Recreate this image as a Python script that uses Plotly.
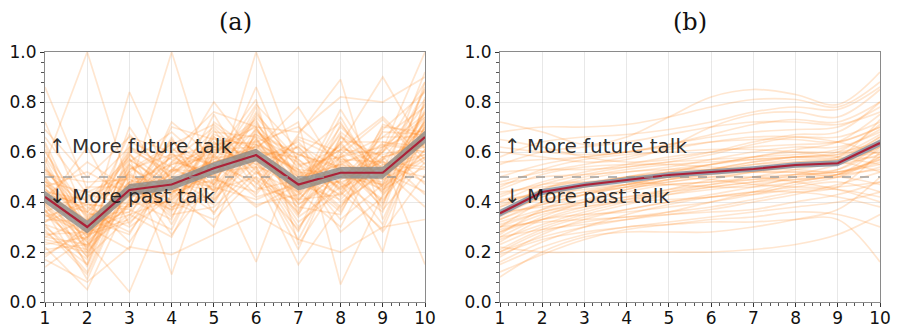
import plotly.graph_objects as go

# Time steps along each conversation
steps = [1, 2, 3, 4, 5, 6, 7, 8, 9, 10]

# Panel (a): per-step share of future talk for individual speakers
lines_a = [
    [0.35, 0.22, 0.48, 0.55, 0.62, 0.70, 0.41, 0.58, 0.46, 0.72],
    [0.52, 0.38, 0.30, 0.42, 0.66, 0.55, 0.62, 0.44, 0.60, 0.81],
    [0.28, 0.15, 0.55, 0.38, 0.47, 0.78, 0.35, 0.66, 0.52, 0.59],
    [0.86, 0.45, 0.62, 0.50, 0.40, 0.63, 0.52, 0.37, 0.71, 0.66],
    [0.40, 0.30, 0.21, 0.61, 0.55, 0.48, 0.29, 0.55, 0.38, 0.88],
    [0.22, 0.05, 0.41, 0.33, 0.72, 0.60, 0.58, 0.72, 0.45, 0.54],
    [0.61, 0.27, 0.84, 0.47, 0.36, 0.52, 0.44, 0.30, 0.62, 0.75],
    [0.47, 0.35, 0.36, 0.72, 0.58, 0.81, 0.23, 0.49, 0.56, 0.48],
    [0.31, 0.12, 0.50, 0.27, 0.49, 0.44, 0.67, 0.89, 0.33, 0.69],
    [0.55, 1.00, 0.46, 0.58, 0.63, 0.67, 0.51, 0.61, 0.74, 0.57],
    [0.38, 0.24, 0.04, 0.44, 0.51, 0.38, 0.47, 0.41, 0.58, 0.63],
    [0.44, 0.41, 0.58, 0.11, 0.60, 0.73, 0.39, 0.52, 0.49, 0.92],
    [0.19, 0.28, 0.33, 0.52, 0.80, 0.58, 0.62, 0.47, 0.28, 0.51],
    [0.49, 0.19, 0.44, 0.65, 0.44, 1.00, 0.55, 0.58, 0.66, 0.78],
    [0.66, 0.43, 0.39, 0.40, 0.33, 0.50, 0.15, 0.39, 0.52, 0.44],
    [0.33, 0.32, 0.67, 0.49, 0.57, 0.62, 0.72, 0.07, 0.43, 0.70],
    [0.42, 0.56, 0.45, 1.00, 0.46, 0.41, 0.48, 0.63, 0.90, 0.61],
    [0.25, 0.21, 0.52, 0.36, 0.68, 0.66, 0.37, 0.54, 0.20, 0.82],
    [0.58, 0.33, 0.27, 0.56, 0.52, 0.16, 0.60, 0.45, 0.57, 0.15],
    [0.37, 0.09, 0.47, 0.46, 0.39, 0.70, 0.45, 0.77, 0.50, 0.64],
    [0.45, 0.37, 0.60, 0.31, 0.61, 0.56, 0.30, 0.50, 0.61, 1.00],
    [0.14, 0.26, 0.38, 0.59, 0.47, 0.64, 0.53, 0.33, 0.47, 0.58],
    [0.51, 0.48, 0.49, 0.43, 0.75, 0.47, 0.66, 0.60, 0.39, 0.73],
    [0.30, 0.17, 0.56, 0.68, 0.53, 0.59, 0.42, 0.68, 0.55, 0.53],
    [0.72, 0.34, 0.43, 0.37, 0.42, 0.75, 0.57, 0.42, 0.68, 0.67],
    [0.39, 0.62, 0.31, 0.53, 0.64, 0.53, 0.25, 0.57, 0.44, 0.86],
    [0.26, 0.23, 0.70, 0.45, 0.30, 0.69, 0.50, 0.36, 0.63, 0.47],
    [0.54, 0.29, 0.35, 0.26, 0.59, 0.43, 0.63, 0.53, 0.31, 0.71],
    [0.46, 0.14, 0.53, 0.63, 0.71, 0.57, 0.34, 0.46, 0.58, 0.62],
    [0.34, 0.40, 0.24, 0.48, 0.48, 0.86, 0.46, 0.70, 0.53, 0.38],
    [0.42, 0.31, 0.45, 0.39, 0.56, 0.61, 0.78, 0.51, 0.48, 0.76],
    [0.23, 0.26, 0.62, 0.54, 0.45, 0.50, 0.40, 0.64, 0.64, 0.60],
    [0.63, 0.20, 0.40, 0.70, 0.65, 0.63, 0.56, 0.28, 0.42, 0.67],
    [0.36, 0.44, 0.51, 0.35, 0.38, 0.54, 0.21, 0.59, 0.73, 0.55],
    [0.48, 0.36, 0.28, 0.50, 0.69, 0.45, 0.49, 0.48, 0.36, 0.80],
    [0.29, 0.11, 0.47, 0.41, 0.54, 0.79, 0.61, 0.40, 0.51, 0.65],
    [0.57, 0.25, 0.64, 0.57, 0.50, 0.39, 0.43, 0.74, 0.46, 0.57],
    [0.43, 0.39, 0.37, 0.29, 0.63, 0.64, 0.70, 0.56, 0.60, 0.74],
    [0.18, 0.30, 0.42, 0.60, 0.41, 0.57, 0.32, 0.44, 0.29, 0.68],
    [0.50, 0.22, 0.57, 0.46, 0.57, 0.71, 0.54, 0.62, 0.54, 0.50],
    [0.32, 0.46, 0.46, 0.37, 0.66, 0.49, 0.38, 0.35, 0.69, 0.84],
    [0.40, 0.18, 0.34, 0.66, 0.35, 0.68, 0.59, 0.53, 0.41, 0.61],
    [0.53, 0.34, 0.59, 0.42, 0.52, 0.54, 0.28, 0.66, 0.58, 0.43],
    [0.27, 0.28, 0.44, 0.51, 0.61, 0.62, 0.52, 0.50, 0.47, 0.77],
    [0.41, 0.42, 0.50, 0.47, 0.45, 0.58, 0.46, 0.58, 0.62, 0.69],
    [0.35, 0.27, 0.41, 0.55, 0.58, 0.46, 0.41, 0.43, 0.55, 0.59],
    [0.47, 0.32, 0.54, 0.44, 0.49, 0.65, 0.50, 0.61, 0.50, 0.72],
    [0.44, 0.24, 0.39, 0.50, 0.56, 0.60, 0.44, 0.52, 0.45, 0.64],
    [0.60, 0.36, 0.52, 0.62, 0.44, 0.57, 0.64, 0.47, 0.60, 0.88],
    [0.21, 0.23, 0.35, 0.41, 0.59, 0.72, 0.48, 0.59, 0.37, 0.56],
    [0.46, 0.52, 0.43, 0.56, 0.70, 0.52, 0.36, 0.71, 0.52, 0.74],
    [0.37, 0.18, 0.59, 0.47, 0.51, 0.66, 0.57, 0.45, 0.64, 0.62],
    [0.50, 0.30, 0.48, 0.34, 0.62, 0.59, 0.41, 0.56, 0.40, 0.70],
    [0.32, 0.39, 0.38, 0.53, 0.47, 0.76, 0.53, 0.38, 0.57, 0.79],
    [0.43, 0.21, 0.53, 0.59, 0.55, 0.42, 0.47, 0.63, 0.49, 0.58],
    [0.55, 0.27, 0.32, 0.45, 0.67, 0.61, 0.39, 0.49, 0.66, 0.66],
    [0.26, 0.33, 0.46, 0.38, 0.43, 0.67, 0.59, 0.54, 0.53, 0.85],
    [0.39, 0.15, 0.61, 0.52, 0.60, 0.55, 0.45, 0.67, 0.43, 0.61],
    [0.48, 0.44, 0.42, 0.64, 0.53, 0.69, 0.51, 0.43, 0.70, 0.68],
    [0.31, 0.25, 0.51, 0.43, 0.64, 0.51, 0.65, 0.57, 0.56, 0.54],
    [0.64, 0.29, 0.39, 0.49, 0.46, 0.63, 0.43, 0.52, 0.47, 0.76],
    [0.41, 0.36, 0.55, 0.40, 0.58, 0.58, 0.35, 0.61, 0.59, 0.63],
    [0.24, 0.20, 0.45, 0.58, 0.50, 0.74, 0.55, 0.46, 0.52, 0.71],
    [0.45, 0.31, 0.36, 0.52, 0.62, 0.54, 0.49, 0.55, 0.63, 0.60],
    [0.53, 0.40, 0.57, 0.45, 0.41, 0.65, 0.44, 0.64, 0.44, 0.73],
    [0.36, 0.28, 0.48, 0.48, 0.56, 0.61, 0.53, 0.51, 0.57, 0.66],
    [0.42, 0.33, 0.43, 0.53, 0.52, 0.57, 0.47, 0.48, 0.54, 0.65],
    [0.39, 0.26, 0.47, 0.45, 0.54, 0.60, 0.50, 0.55, 0.51, 0.68],
    [0.69, 0.50, 0.66, 0.60, 0.76, 0.70, 0.68, 0.82, 0.80, 0.90],
    [0.17, 0.08, 0.22, 0.19, 0.27, 0.35, 0.25, 0.20, 0.30, 0.33],
]
mean_a = [0.42, 0.30, 0.448, 0.47, 0.535, 0.588, 0.47, 0.517, 0.517, 0.66]
ci_a = [0.024, 0.026, 0.024, 0.023, 0.024, 0.025, 0.024, 0.023, 0.024, 0.025]

# Panel (b): smoothed trajectories
lines_b = [
    [0.72, 0.68, 0.63, 0.66, 0.74, 0.82, 0.85, 0.83, 0.79, 0.92],
    [0.12, 0.19, 0.25, 0.29, 0.31, 0.33, 0.34, 0.36, 0.35, 0.30],
    [0.35, 0.42, 0.47, 0.50, 0.53, 0.55, 0.57, 0.58, 0.58, 0.66],
    [0.50, 0.55, 0.58, 0.60, 0.63, 0.66, 0.68, 0.69, 0.70, 0.78],
    [0.22, 0.20, 0.20, 0.20, 0.20, 0.20, 0.21, 0.23, 0.27, 0.35],
    [0.30, 0.36, 0.40, 0.44, 0.47, 0.48, 0.50, 0.51, 0.52, 0.55],
    [0.42, 0.48, 0.52, 0.55, 0.58, 0.60, 0.62, 0.63, 0.64, 0.70],
    [0.18, 0.27, 0.33, 0.37, 0.40, 0.42, 0.43, 0.45, 0.45, 0.42],
    [0.60, 0.58, 0.56, 0.57, 0.62, 0.70, 0.75, 0.76, 0.74, 0.85],
    [0.28, 0.33, 0.35, 0.36, 0.38, 0.40, 0.43, 0.47, 0.50, 0.58],
    [0.38, 0.45, 0.49, 0.52, 0.53, 0.53, 0.52, 0.52, 0.53, 0.61],
    [0.25, 0.31, 0.36, 0.40, 0.44, 0.47, 0.50, 0.53, 0.56, 0.65],
    [0.45, 0.51, 0.54, 0.55, 0.55, 0.54, 0.53, 0.54, 0.56, 0.52],
    [0.15, 0.22, 0.27, 0.30, 0.31, 0.32, 0.32, 0.33, 0.33, 0.16],
    [0.33, 0.40, 0.44, 0.47, 0.50, 0.52, 0.55, 0.57, 0.58, 0.73],
    [0.40, 0.44, 0.46, 0.47, 0.48, 0.50, 0.52, 0.55, 0.57, 0.60],
    [0.55, 0.60, 0.62, 0.64, 0.67, 0.70, 0.72, 0.72, 0.71, 0.76],
    [0.20, 0.28, 0.32, 0.34, 0.35, 0.36, 0.37, 0.40, 0.43, 0.48],
    [0.36, 0.38, 0.40, 0.42, 0.44, 0.46, 0.48, 0.51, 0.55, 0.62],
    [0.30, 0.40, 0.46, 0.50, 0.52, 0.53, 0.53, 0.53, 0.52, 0.57],
    [0.47, 0.50, 0.51, 0.52, 0.54, 0.57, 0.60, 0.62, 0.62, 0.68],
    [0.26, 0.34, 0.40, 0.45, 0.48, 0.50, 0.50, 0.48, 0.45, 0.40],
    [0.10, 0.20, 0.26, 0.28, 0.28, 0.28, 0.30, 0.33, 0.37, 0.50],
    [0.65, 0.62, 0.58, 0.56, 0.57, 0.60, 0.64, 0.67, 0.68, 0.80],
    [0.32, 0.37, 0.41, 0.45, 0.49, 0.53, 0.56, 0.58, 0.59, 0.63],
    [0.43, 0.47, 0.48, 0.48, 0.47, 0.46, 0.46, 0.48, 0.51, 0.56],
    [0.23, 0.30, 0.35, 0.39, 0.43, 0.46, 0.48, 0.49, 0.50, 0.54],
    [0.38, 0.43, 0.46, 0.49, 0.52, 0.55, 0.58, 0.60, 0.60, 0.64],
    [0.28, 0.35, 0.38, 0.40, 0.41, 0.42, 0.44, 0.46, 0.48, 0.44],
    [0.52, 0.53, 0.53, 0.54, 0.56, 0.59, 0.63, 0.66, 0.66, 0.72],
    [0.34, 0.42, 0.47, 0.50, 0.50, 0.49, 0.47, 0.46, 0.46, 0.48],
    [0.20, 0.26, 0.30, 0.33, 0.36, 0.40, 0.44, 0.48, 0.51, 0.58],
    [0.40, 0.47, 0.51, 0.54, 0.56, 0.57, 0.58, 0.59, 0.61, 0.69],
    [0.30, 0.32, 0.33, 0.34, 0.36, 0.38, 0.41, 0.44, 0.46, 0.60],
    [0.46, 0.53, 0.57, 0.59, 0.60, 0.61, 0.61, 0.60, 0.58, 0.55],
    [0.35, 0.39, 0.43, 0.46, 0.49, 0.51, 0.52, 0.52, 0.51, 0.62],
    [0.58, 0.64, 0.66, 0.67, 0.69, 0.72, 0.76, 0.78, 0.77, 0.86],
    [0.16, 0.24, 0.30, 0.35, 0.39, 0.42, 0.44, 0.44, 0.42, 0.38],
    [0.37, 0.41, 0.44, 0.46, 0.47, 0.48, 0.49, 0.50, 0.51, 0.53],
    [0.27, 0.37, 0.43, 0.47, 0.50, 0.52, 0.54, 0.56, 0.57, 0.66],
    [0.62, 0.60, 0.59, 0.60, 0.63, 0.67, 0.71, 0.73, 0.72, 0.80],
    [0.33, 0.39, 0.43, 0.46, 0.49, 0.51, 0.53, 0.55, 0.56, 0.62],
    [0.29, 0.33, 0.37, 0.41, 0.45, 0.49, 0.52, 0.54, 0.55, 0.59],
    [0.44, 0.46, 0.48, 0.50, 0.52, 0.55, 0.58, 0.61, 0.64, 0.75],
    [0.21, 0.29, 0.34, 0.37, 0.40, 0.43, 0.46, 0.50, 0.53, 0.63],
    [0.39, 0.44, 0.47, 0.49, 0.51, 0.53, 0.55, 0.56, 0.57, 0.58],
    [0.48, 0.52, 0.55, 0.58, 0.61, 0.64, 0.66, 0.66, 0.64, 0.59],
    [0.26, 0.29, 0.31, 0.33, 0.35, 0.37, 0.40, 0.43, 0.47, 0.52],
    [0.36, 0.45, 0.50, 0.53, 0.55, 0.56, 0.57, 0.58, 0.59, 0.67],
    [0.31, 0.36, 0.39, 0.42, 0.45, 0.47, 0.49, 0.51, 0.52, 0.57],
    [0.56, 0.57, 0.58, 0.60, 0.62, 0.64, 0.65, 0.65, 0.64, 0.70],
    [0.24, 0.33, 0.38, 0.41, 0.43, 0.45, 0.47, 0.49, 0.50, 0.47],
    [0.41, 0.43, 0.45, 0.47, 0.50, 0.53, 0.56, 0.58, 0.60, 0.71],
    [0.19, 0.25, 0.28, 0.30, 0.32, 0.34, 0.36, 0.38, 0.40, 0.44],
    [0.68, 0.70, 0.70, 0.71, 0.74, 0.78, 0.81, 0.81, 0.78, 0.88],
]
mean_b = [0.355, 0.44, 0.468, 0.488, 0.508, 0.52, 0.532, 0.548, 0.555, 0.636]
ci_b = [0.014, 0.012, 0.011, 0.011, 0.011, 0.011, 0.011, 0.011, 0.012, 0.014]

panel_titles = ["(a)", "(b)"]
label_up = "↑ More future talk"
label_down = "↓ More past talk"
neutral_level = 0.5

W, H = 897, 329
MEAN_RED = "#ab2238"

fig = go.Figure()

# plot-area pixel boxes for the two panels
panels = [
    dict(x0=45, x1=425, xa="x", ya="y", lines=lines_a, mean=mean_a, ci=ci_a,
         shape="linear", band="rgba(140,140,140,0.8)",
         trail="rgba(255,135,35,0.21)"),
    dict(x0=500, x1=880, xa="x2", ya="y2", lines=lines_b, mean=mean_b, ci=ci_b,
         shape="spline", band="rgba(125,140,160,0.8)",
         trail="rgba(255,135,35,0.21)"),
]
top_px, bot_px = 52, 302

for p in panels:
    for ln in p["lines"]:
        fig.add_trace(go.Scatter(
            x=steps, y=ln, xaxis=p["xa"], yaxis=p["ya"], mode="lines",
            line=dict(color=p["trail"], width=1.7, shape=p["shape"]),
            hoverinfo="skip", showlegend=False))
    upper = [m + c for m, c in zip(p["mean"], p["ci"])]
    lower = [m - c for m, c in zip(p["mean"], p["ci"])]
    fig.add_trace(go.Scatter(
        x=steps, y=upper, xaxis=p["xa"], yaxis=p["ya"], mode="lines",
        line=dict(width=0, color=p["band"]), showlegend=False, hoverinfo="skip"))
    fig.add_trace(go.Scatter(
        x=steps, y=lower, xaxis=p["xa"], yaxis=p["ya"], mode="lines",
        line=dict(width=0, color=p["band"]), fill="tonexty",
        fillcolor=p["band"], showlegend=False, hoverinfo="skip"))
    fig.add_trace(go.Scatter(
        x=steps, y=p["mean"], xaxis=p["xa"], yaxis=p["ya"], mode="lines",
        line=dict(color=MEAN_RED, width=2.2), showlegend=False))

axis_common = dict(
    showline=True, mirror=True, linecolor="#8a8a8a", linewidth=1.2,
    showgrid=True, gridcolor="rgba(0,0,0,0.09)", gridwidth=1,
    zeroline=False, ticks="outside", ticklen=4, tickwidth=1.2,
    tickcolor="#333", automargin=False,
    tickfont=dict(family="DejaVu Sans", size=17, color="#111"),
)

layout_axes = {}
for i, p in enumerate(panels):
    sfx = "" if i == 0 else "2"
    layout_axes["xaxis" + sfx] = dict(
        axis_common, domain=[p["x0"] / W, p["x1"] / W], range=[1, 10],
        tickvals=steps, anchor="y" + sfx, ticklabelstandoff=-4,
        minor=dict(ticks="outside", dtick=0.2, ticklen=2.5, tickcolor="#555",
                   showgrid=False),
    )
    layout_axes["yaxis" + sfx] = dict(
        axis_common, domain=[1 - bot_px / H, 1 - top_px / H], range=[0, 1],
        tickvals=[0, 0.2, 0.4, 0.6, 0.8, 1.0],
        ticktext=["0.0", "0.2", "0.4", "0.6", "0.8", "1.0"],
        anchor="x" + sfx,
        minor=dict(ticks="outside", dtick=0.04, ticklen=2.5, tickcolor="#555",
                   showgrid=False),
    )

shapes = []
annotations = []
for i, p in enumerate(panels):
    sfx = "" if i == 0 else "2"
    shapes.append(dict(
        type="line", xref="x" + sfx + " domain", yref="y" + sfx,
        x0=0, x1=1, y0=neutral_level, y1=neutral_level,
        line=dict(color="rgba(150,150,150,0.9)", width=1.6, dash="dash"),
        layer="above"))
    annotations.append(dict(
        text=panel_titles[i], xref="paper", yref="paper",
        x=(p["x0"] + p["x1"]) / 2 / W, y=1 - 22 / H, showarrow=False,
        font=dict(family="DejaVu Serif", size=24, color="#111"),
        xanchor="center", yanchor="middle"))
    annotations.append(dict(
        text=label_up, xref="x" + sfx + " domain", yref="y" + sfx,
        x=0.005, y=0.625, showarrow=False, xanchor="left", yanchor="middle",
        font=dict(family="DejaVu Sans", size=20, color="rgba(20,20,20,0.9)")))
    annotations.append(dict(
        text=label_down, xref="x" + sfx + " domain", yref="y" + sfx,
        x=0.005, y=0.425, showarrow=False, xanchor="left", yanchor="middle",
        font=dict(family="DejaVu Sans", size=20, color="rgba(20,20,20,0.9)")))

fig.update_layout(
    width=W, height=H, margin=dict(l=0, r=0, t=0, b=0),
    paper_bgcolor="white", plot_bgcolor="white",
    shapes=shapes, annotations=annotations, showlegend=False,
    **layout_axes,
)

fig.write_html("out.html")
